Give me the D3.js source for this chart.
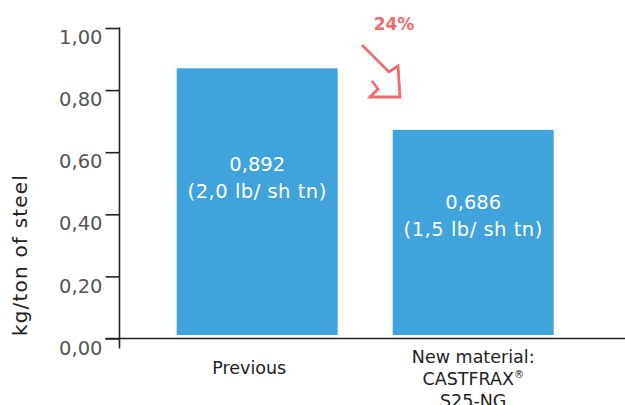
<!DOCTYPE html>
<html><head><meta charset="utf-8">
<script src="https://cdn.jsdelivr.net/npm/d3@7"></script>
<style>
html,body{margin:0;padding:0;background:#fff;}
svg{display:block;}
</style></head>
<body><svg id="chart" width="625" height="405"></svg>
<script>
const categories = ["Previous", "New material:\nCASTFRAX®\nS25-NG"];
const values = [0.892, 0.686];
const valueLabels = ["0,892", "0,686"];
const unitLabels = ["(2,0 lb/ sh tn)", "(1,5 lb/ sh tn)"];
const tickValues = [0, 0.2, 0.4, 0.6, 0.8, 1.0];
const yTitle = "kg/ton of steel";
const changeLabel = "24%";

const svg = d3.select("#chart");
const font = "'DejaVu Sans', sans-serif";
const blue = "#40a3dc";
const red = "#f06b6b";

const axisX = 119.5;
const y = d3.scaleLinear().domain([0, 1]).range([338.5, 28]);
const yBar = d3.scaleLinear().domain([0, 1]).range([335, 36]);
const x = d3.scaleBand().domain(categories).range([121.7, 608.7]).paddingInner(0.2546).paddingOuter(0.2546);

// bars
svg.selectAll("rect.bar").data(values).join("rect")
  .attr("class", "bar")
  .attr("x", (d, i) => x(categories[i]))
  .attr("width", x.bandwidth())
  .attr("y", d => yBar(d))
  .attr("height", d => yBar(0) - yBar(d))
  .attr("fill", blue);

// bar labels
const bl = svg.selectAll("text.bl").data(values).join("text")
  .attr("class", "bl")
  .attr("text-anchor", "middle")
  .attr("fill", "#fff")
  .style("font-family", font)
  .style("font-size", "19.5px");
bl.each(function(d, i) {
  const t = d3.select(this);
  const cx = x(categories[i]) + x.bandwidth() / 2;
  const base = yBar(d * 0.615);
  t.append("tspan").attr("x", cx).attr("y", base).text(valueLabels[i]);
  t.append("tspan").attr("x", cx).attr("y", base + 27).attr("letter-spacing", "0.5px").text(unitLabels[i]);
});

// y axis
const yAxis = d3.axisLeft(y).tickValues(tickValues).tickSizeInner(14).tickSizeOuter(0).tickPadding(3)
  .tickFormat(d => d3.format(".2f")(d).replace(".", ","));
const gy = svg.append("g").attr("transform", `translate(${axisX},0)`).call(yAxis);
gy.select(".domain").remove();
gy.selectAll(".tick line").attr("stroke", "#222").attr("stroke-width", 1.6);
gy.selectAll(".tick text").attr("dy", "0.8em").attr("fill", "#555")
  .style("font-family", font).style("font-size", "19.5px");
gy.append("line").attr("x1", 0).attr("x2", 0).attr("y1", y(1) - 0.8).attr("y2", y(0) + 10)
  .attr("stroke", "#222").attr("stroke-width", 1.6);

// x axis baseline
svg.append("line").attr("x1", axisX - 14).attr("x2", 625).attr("y1", y(0)).attr("y2", y(0))
  .attr("stroke", "#222").attr("stroke-width", 1.6);

// x labels
const xl = svg.selectAll("text.xl").data(categories).join("text")
  .attr("class", "xl")
  .attr("text-anchor", "middle")
  .attr("fill", "#222")
  .style("font-family", font)
  .style("font-size", "17.5px");
xl.each(function(d, i) {
  const t = d3.select(this);
  const lines = d.split("\n");
  const cx = x(d) + x.bandwidth() / 2 + (lines.length === 1 ? -8 : 0);
  const startY = lines.length === 1 ? 374 : 363;
  lines.forEach((ln, j) => {
    const ts = t.append("tspan").attr("x", cx).attr("y", startY + j * 22);
    if (ln.endsWith("®")) {
      ts.text(ln.slice(0, -1));
      t.append("tspan").attr("dy", -7).style("font-size", "10px").text("®");
    } else ts.text(ln);
  });
});

// y title
svg.append("text")
  .attr("transform", `translate(27,255) rotate(-90)`)
  .attr("text-anchor", "middle")
  .attr("fill", "#222")
  .attr("letter-spacing", "1.2px")
  .style("font-family", font)
  .style("font-size", "20px")
  .text(yTitle);

// change annotation
svg.append("text").attr("x", 394).attr("y", 30).attr("text-anchor", "middle")
  .attr("fill", red).style("font-family", font).style("font-weight", "bold").style("font-size", "17px")
  .text(changeLabel);
const arrowPts = [[362, 45], [389, 72], [398, 66], [400, 97], [370, 97], [378, 89], [372, 81]];
svg.append("path").attr("d", d3.line()(arrowPts)).attr("fill", "none")
  .attr("stroke", red).attr("stroke-width", 2.8).attr("stroke-linejoin", "miter");
</script></body></html>
